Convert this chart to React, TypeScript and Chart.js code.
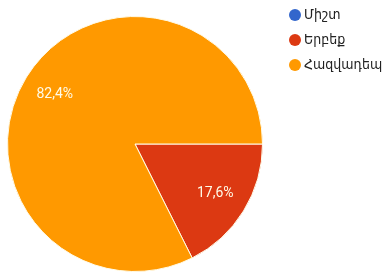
import React, { useEffect, useRef } from "react";
import { Chart, registerables } from "chart.js";

Chart.register(...registerables);

const categories = ["Միշտ", "Երբեք", "Հազվադեպ"];
const percentages = [0, 17.6, 82.4];
const sliceColors = ["#3366cc", "#dc3912", "#ff9900"];

const FONT = "Roboto, 'Noto Sans', sans-serif";
const LEGEND_FONT = "'DejaVu Sans Condensed', 'DejaVu Sans', sans-serif";

const sliceLabelPlugin = {
  id: "sliceLabels",
  afterDatasetsDraw(chart: any) {
    const ctx = chart.ctx;
    const meta = chart.getDatasetMeta(0);
    const values = chart.data.datasets[0].data as number[];
    ctx.save();
    ctx.font = `14px ${FONT}`;
    ctx.fillStyle = "#fffbe8";
    ctx.textAlign = "center";
    ctx.textBaseline = "middle";
    meta.data.forEach((arc: any, i: number) => {
      const v = values[i];
      if (!v) return;
      const { x, y, startAngle, endAngle, outerRadius } = arc.getProps(
        ["x", "y", "startAngle", "endAngle", "outerRadius"],
        true
      );
      const mid = (startAngle + endAngle) / 2;
      const r = outerRadius * 0.74;
      const text = v.toFixed(1).replace(".", ",") + "%";
      ctx.fillText(text, x + Math.cos(mid) * r, y + Math.sin(mid) * r);
    });
    ctx.restore();
  },
};

const sideLegendPlugin = {
  id: "sideLegend",
  afterDraw(chart: any) {
    const ctx = chart.ctx;
    const labels = chart.data.labels as string[];
    const colors = chart.data.datasets[0].backgroundColor as string[];
    ctx.save();
    ctx.font = `14px ${LEGEND_FONT}`;
    ctx.textBaseline = "middle";
    ctx.textAlign = "left";
    labels.forEach((lab, i) => {
      const cy = 15 + i * 25;
      ctx.beginPath();
      ctx.fillStyle = colors[i];
      ctx.arc(295, cy, 6, 0, Math.PI * 2);
      ctx.fill();
      ctx.fillStyle = "#222222";
      ctx.fillText(lab, 304, cy);
    });
    ctx.restore();
  },
};

export default function App() {
  const ref = useRef<HTMLCanvasElement>(null);
  useEffect(() => {
    if (!ref.current) return;
    const chart = new Chart(ref.current, {
      type: "pie",
      data: {
        labels: categories,
        datasets: [
          {
            data: percentages,
            backgroundColor: sliceColors,
            borderColor: "#fffbe8",
            borderWidth: 1,
          },
        ],
      },
      options: {
        animation: false,
        responsive: false,
        rotation: 90,
        layout: { padding: { left: 7, right: 125, top: 16, bottom: 8 } },
        plugins: {
          legend: { display: false },
          tooltip: { enabled: false },
        },
      },
      plugins: [sliceLabelPlugin, sideLegendPlugin],
    });
    return () => chart.destroy();
  }, []);
  return (
    <div style={{ position: "fixed", left: 0, top: 0, width: 388, height: 280, background: "#fff" }}>
      <canvas ref={ref} width={388} height={280} style={{ width: 388, height: 280, display: "block" }} />
    </div>
  );
}
